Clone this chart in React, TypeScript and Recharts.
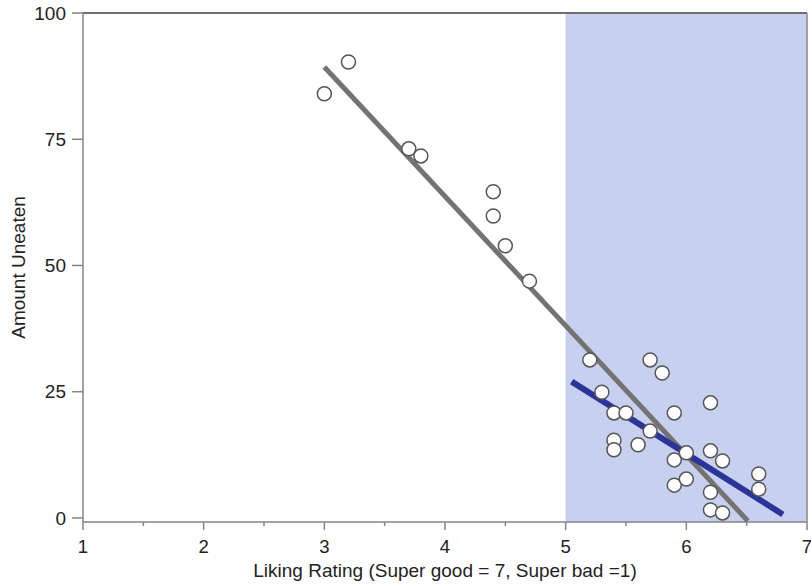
import {
  ScatterChart,
  Scatter,
  XAxis,
  YAxis,
  ReferenceArea,
  ReferenceLine,
} from "recharts";

// liking rating vs amount uneaten
const ratings = [
  3.0, 3.2, 3.7, 3.8, 4.4, 4.4, 4.5, 4.7,
  5.2, 5.3, 5.4, 5.5, 5.4, 5.4, 5.6, 5.7, 5.8, 5.7, 5.9, 5.9, 5.9,
  6.0, 6.0, 6.2, 6.2, 6.3, 6.2, 6.2, 6.3, 6.6, 6.6,
];
const uneaten = [
  84.0, 90.3, 73.1, 71.7, 64.6, 59.8, 53.9, 46.9,
  31.3, 24.9, 20.8, 20.8, 15.4, 13.5, 14.5, 31.3, 28.7, 17.2, 20.8, 11.5, 6.5,
  7.7, 12.9, 22.8, 13.3, 11.3, 5.1, 1.6, 1.0, 8.7, 5.7,
];

// fitted lines: all ratings (gray) and ratings above 5 (blue)
const allFitX = [3.0, 6.51];
const allFitY = [89.3, -0.6];
const highFitX = [5.05, 6.8];
const highFitY = [27.0, 0.7];

const xTicks = [1, 1.5, 2, 2.5, 3, 3.5, 4, 4.5, 5, 5.5, 6, 6.5, 7];
const yTicks = [0, 25, 50, 75, 100];

const points = ratings.map((x, i) => ({ x, y: uneaten[i] }));
const allFit = allFitX.map((x, i) => ({ x, y: allFitY[i] }));
const highFit = highFitX.map((x, i) => ({ x, y: highFitY[i] }));

const FONT = "'Liberation Sans', Arial, Helvetica, sans-serif";
const AXIS = "#858585";

function XTick(props: any) {
  const { x, y, payload } = props;
  const v = payload.value as number;
  const major = Number.isInteger(v);
  const axisY = y - 18;
  return (
    <g>
      <line
        x1={x}
        x2={x}
        y1={axisY}
        y2={axisY + (major ? 8 : 4)}
        stroke={AXIS}
        strokeWidth={1.5}
      />
      {major && (
        <text
          x={x}
          y={y}
          dy="0.71em"
          textAnchor="middle"
          fontSize={18.5}
          fontFamily={FONT}
          fill="#222"
        >
          {v}
        </text>
      )}
    </g>
  );
}

function Dot(props: any) {
  const { cx, cy } = props;
  return (
    <circle cx={cx} cy={cy} r={7} fill="#fff" stroke="#555" strokeWidth={1.5} />
  );
}

export default function App() {
  return (
    <div style={{ position: "absolute", left: 0, top: 0, background: "#fff" }}>
      <ScatterChart
        width={811}
        height={585}
        margin={{ top: 13, right: 4, bottom: 0, left: 0 }}
      >
        <XAxis
          type="number"
          dataKey="x"
          domain={[1, 7]}
          ticks={xTicks}
          interval={0}
          tick={<XTick />}
          tickLine={false}
          tickSize={8}
          tickMargin={10}
          height={63}
          axisLine={{ stroke: AXIS, strokeWidth: 1.5 }}
          label={{
            value: "Liking Rating (Super good = 7, Super bad =1)",
            position: "insideBottom",
            offset: 8,
            fontSize: 19,
            fontFamily: FONT,
            fill: "#222",
          }}
        />
        <YAxis
          type="number"
          dataKey="y"
          domain={[-0.8, 100]}
          ticks={yTicks}
          interval={0}
          width={83}
          tickSize={11}
          tickMargin={6}
          tick={{ fontSize: 19, fontFamily: FONT, fill: "#222" }}
          tickLine={{ stroke: AXIS, strokeWidth: 1.5 }}
          axisLine={{ stroke: AXIS, strokeWidth: 1.5 }}
          label={{
            value: "Amount Uneaten",
            angle: -90,
            position: "center",
            dx: -23,
            fontSize: 19,
            fontFamily: FONT,
            fill: "#222",
          }}
        />
        <ReferenceArea x1={5} x2={7} fill="#c8d0ef" fillOpacity={1} stroke="none" />
        <ReferenceLine y={100} stroke="#6e6e6e" strokeWidth={2} />
        <ReferenceLine x={7} stroke="#8a8a8a" strokeWidth={1.5} />
        <Scatter
          data={allFit}
          line={{ stroke: "#737373", strokeWidth: 5 }}
          shape={() => <g />}
          isAnimationActive={false}
        />
        <Scatter
          data={highFit}
          line={{ stroke: "#2b3599", strokeWidth: 6 }}
          shape={() => <g />}
          isAnimationActive={false}
        />
        <Scatter data={points} shape={<Dot />} isAnimationActive={false} />
      </ScatterChart>
    </div>
  );
}
